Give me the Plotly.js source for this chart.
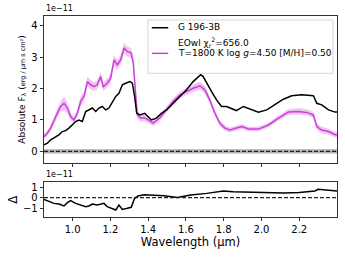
<!DOCTYPE html>
<html><head><meta charset="utf-8">
<script src="https://cdn.plot.ly/plotly-3.0.1.min.js"></script>
<style>html,body{margin:0;padding:0;background:#fff}#c{width:345px;height:259px}</style>
</head><body><div id="c"></div>
<script>
// Observed spectrum G 196-3B (units of 1e-11)
const obsWave = [0.848,0.866,0.883,0.910,0.927,0.945,0.963,0.980,0.998,1.016,1.033,1.051,1.069,1.086,1.104,1.122,1.139,1.157,1.175,1.192,1.210,1.228,1.245,1.263,1.281,1.303,1.316,1.328,1.339,1.356,1.382,1.4,1.417,1.443,1.47,1.497,1.532,1.568,1.603,1.638,1.664,1.678,1.691,1.709,1.735,1.762,1.788,1.815,1.841,1.867,1.904,1.940,1.984,2.028,2.072,2.116,2.160,2.213,2.275,2.293,2.319,2.355,2.390,2.40];
const obsFlux = [0.21,0.26,0.37,0.47,0.525,0.63,0.66,0.74,0.84,0.95,1.0,0.95,1.27,1.32,1.38,1.27,1.38,1.43,1.32,1.38,1.59,1.75,1.85,2.12,2.17,2.22,2.17,1.75,1.22,1.16,1.21,1.11,1.0,1.06,1.21,1.32,1.53,1.75,1.96,2.22,2.38,2.44,2.38,2.17,1.91,1.64,1.43,1.43,1.37,1.30,1.43,1.34,1.25,1.32,1.48,1.66,1.77,1.80,1.77,1.53,1.48,1.32,1.25,1.25];
// Model EOwl T=1800 K log g=4.50 [M/H]=0.50
const modWave = [0.848,0.866,0.883,0.901,0.919,0.936,0.954,0.972,0.989,1.007,1.025,1.042,1.060,1.078,1.095,1.113,1.130,1.148,1.162,1.183,1.201,1.219,1.236,1.254,1.272,1.289,1.310,1.321,1.334,1.342,1.36,1.382,1.4,1.426,1.461,1.497,1.532,1.568,1.603,1.638,1.674,1.700,1.726,1.753,1.779,1.806,1.832,1.867,1.896,1.931,1.984,2.037,2.090,2.143,2.196,2.240,2.275,2.293,2.319,2.355,2.390,2.40];
const modFlux = [0.47,0.58,0.74,1.0,1.22,1.43,1.53,1.38,1.11,1.0,1.22,1.59,1.75,2.22,2.12,2.06,2.12,2.38,2.06,2.17,2.33,2.91,2.75,2.91,3.29,3.18,3.13,2.81,1.64,1.16,1.06,1.06,1.0,0.9,1.06,1.32,1.59,1.8,1.91,2.01,2.09,1.96,1.64,1.22,0.9,0.74,0.68,0.74,0.79,0.71,0.71,0.84,1.06,1.25,1.27,1.24,1.16,0.79,0.68,0.63,0.53,0.53];
const modErr  = [0.08,0.09,0.1,0.12,0.14,0.16,0.22,0.18,0.12,0.1,0.12,0.16,0.16,0.16,0.15,0.14,0.14,0.14,0.14,0.14,0.15,0.16,0.16,0.16,0.17,0.16,0.16,0.16,0.14,0.12,0.12,0.1,0.1,0.1,0.1,0.1,0.1,0.1,0.11,0.12,0.12,0.12,0.11,0.1,0.09,0.08,0.08,0.08,0.08,0.07,0.07,0.07,0.08,0.09,0.1,0.1,0.1,0.1,0.1,0.09,0.09,0.09];
// Residual (data - model), units of 1e-11
const resWave = [0.848,0.874,0.901,0.927,0.954,0.972,0.989,1.016,1.042,1.069,1.086,1.104,1.130,1.157,1.166,1.183,1.210,1.228,1.245,1.263,1.289,1.31,1.328,1.346,1.378,1.431,1.484,1.554,1.59,1.625,1.71,1.798,1.85,1.95,2.028,2.12,2.2,2.283,2.30,2.35,2.40];
const resFlux = [-0.16,-0.38,-0.55,-0.61,-0.8,-0.48,-0.29,-0.55,-0.71,-0.87,-0.8,-0.61,-0.71,-0.61,-0.55,-0.87,-1.03,-1.19,-0.71,-1.13,-1.03,-0.93,-0.06,0.17,0.29,0.26,0.19,0.03,0.17,0.26,0.42,0.65,0.58,0.55,0.49,0.45,0.5,0.65,0.81,0.7,0.65];
const zeroWave = [0.848,2.40];
const zeroVal = [0,0];
const noiseErr = [0.07,0.07];
const xTicks = [1.0,1.2,1.4,1.6,1.8,2.0,2.2];
const xTickText = ['1.0','1.2','1.4','1.6','1.8','2.0','2.2'];

const MAG = '#cc3fd9';
const up = modFlux.map((v,i)=>v+modErr[i]);
const lo = modFlux.map((v,i)=>v-modErr[i]);
const F = 'DejaVu Sans, sans-serif';

const traces = [
  {x: zeroWave, y: zeroVal.map((v,i)=>v+noiseErr[i]), mode:'lines', line:{width:0}, hoverinfo:'skip', showlegend:false},
  {x: zeroWave, y: zeroVal.map((v,i)=>v-noiseErr[i]), mode:'lines', line:{width:0}, fill:'tonexty', fillcolor:'rgba(150,150,150,0.75)', hoverinfo:'skip', showlegend:false},
  {x: zeroWave, y: zeroVal, mode:'lines', line:{color:'#222', width:1.2, dash:'4px,2px'}, showlegend:false},
  {x: modWave, y: up, mode:'lines', line:{width:0}, showlegend:false},
  {x: modWave, y: lo, mode:'lines', line:{width:0}, fill:'tonexty', fillcolor:'rgba(204,63,217,0.3)', showlegend:false},
  {x: modWave, y: modFlux, mode:'lines', line:{color:MAG, width:1.5}, showlegend:false},
  {x: obsWave, y: obsFlux, mode:'lines', line:{color:'#000', width:1.5}, showlegend:false},
  {x: resWave, y: resFlux, xaxis:'x2', yaxis:'y2', mode:'lines', line:{color:'#000', width:1.5}, showlegend:false},
  {x: zeroWave, y: zeroVal, xaxis:'x2', yaxis:'y2', mode:'lines', line:{color:'#222', width:1.2, dash:'4px,2px'}, showlegend:false}
];

const axCommon = {showline:true, mirror:true, linecolor:'#000', linewidth:0.8, ticks:'outside', ticklen:3.5, tickwidth:0.8, tickcolor:'#000', showgrid:false, zeroline:false, tickfont:{family:F, size:10, color:'#000'}};

const layout = {
  width:345, height:259,
  margin:{l:44, r:8, t:16, b:42},
  paper_bgcolor:'#fff', plot_bgcolor:'#fff',
  showlegend:false,
  font:{family:F, color:'#000'},
  xaxis: Object.assign({}, axCommon, {range:[0.848,2.40], domain:[0,1], anchor:'y', tickvals:xTicks, showticklabels:false}),
  yaxis: Object.assign({}, axCommon, {range:[-0.37,4.31], domain:[0.2687,1], anchor:'x', tickvals:[0,1,2,3,4], ticktext:['0','1','2','3','4'],
    title:{text:"Absolute F<sub>λ</sub> (<span style='font-size:6.5px'>erg / μm s cm²</span>)", font:{family:F, size:9, color:'#000'}, standoff:4}}),
  xaxis2: Object.assign({}, axCommon, {range:[0.848,2.40], domain:[0,1], anchor:'y2', tickvals:xTicks, ticktext:xTickText,
    title:{text:'Wavelength (μm)', font:{family:F, size:11.5, color:'#000'}, standoff:2}}),
  yaxis2: Object.assign({}, axCommon, {range:[-1.87,1.52], domain:[0,0.174], anchor:'x2', tickvals:[-1,0,1], ticktext:['−1','0','1'],
    title:{text:'Δ', font:{family:F, size:12, color:'#000'}, standoff:2}}),
  shapes:[
    {type:'rect', xref:'x domain', yref:'y domain', x0:0.355, x1:0.986, y0:0.61, y1:0.973, line:{color:'#ccc', width:0.8}, fillcolor:'rgba(255,255,255,0.85)', layer:'above'},
    {type:'line', xref:'x domain', yref:'y domain', x0:0.368, x1:0.424, y0:0.92, y1:0.92, line:{color:'#000', width:1.5}, layer:'above'},
    {type:'line', xref:'x domain', yref:'y domain', x0:0.368, x1:0.424, y0:0.746, y1:0.746, line:{color:MAG, width:1.5}, layer:'above'}
  ],
  annotations:[
    {xref:'x domain', yref:'y domain', x:0.452, y:0.923, xanchor:'left', yanchor:'middle', showarrow:false, text:'G 196-3B', font:{family:F, size:9, color:'#000'}},
    {xref:'x domain', yref:'y domain', x:0.452, y:0.823, xanchor:'left', yanchor:'middle', showarrow:false, text:'EOwl χ<sub>r</sub><sup>2</sup>=656.0', font:{family:F, size:9, color:'#000'}},
    {xref:'x domain', yref:'y domain', x:0.452, y:0.746, xanchor:'left', yanchor:'middle', showarrow:false, text:'T=1800 K log <i>g</i>=4.50 [M/H]=0.50', font:{family:F, size:9, color:'#000'}},
    {xref:'x domain', yref:'y domain', x:0, y:1.005, xanchor:'left', yanchor:'bottom', showarrow:false, text:'1e−11', font:{family:F, size:8, color:'#000'}},
    {xref:'x2 domain', yref:'y2 domain', x:0, y:1.02, xanchor:'left', yanchor:'bottom', showarrow:false, text:'1e−11', font:{family:F, size:8, color:'#000'}}
  ]
};
Plotly.newPlot('c', traces, layout, {staticPlot:true, displayModeBar:false});
</script></body></html>
